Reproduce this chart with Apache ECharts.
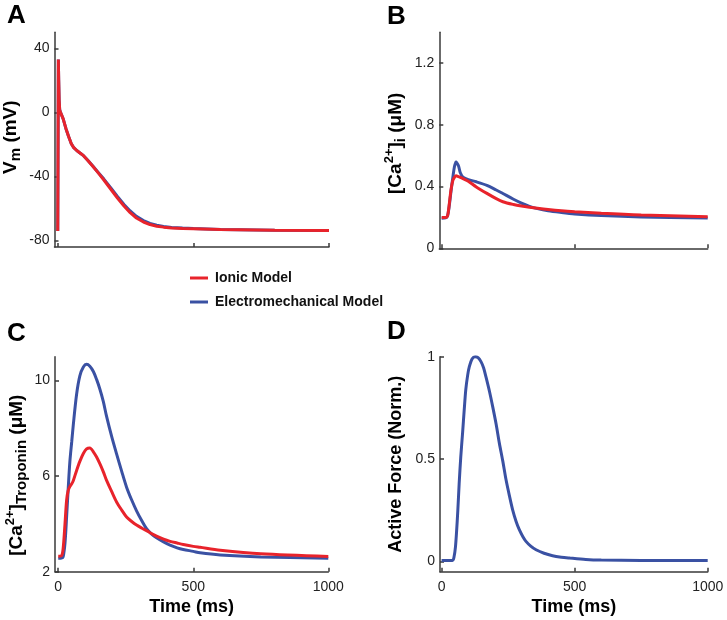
<!DOCTYPE html>
<html>
<head>
<meta charset="utf-8">
<script src="https://cdn.jsdelivr.net/npm/echarts@6/dist/echarts.min.js"></script>
<style>
html,body{margin:0;padding:0;background:#fff;}
#chart{width:727px;height:620px;}
</style>
</head>
<body>
<div id="chart"></div>
<script>
// ---- Data ----
const seriesNames = ['Ionic Model', 'Electromechanical Model'];
const xTicks = [0, 500, 1000];

// Panel A: membrane potential (mV)
const tA = [0, 1.8, 2.2, 3.5, 5, 7, 9, 12, 20, 30, 40, 50, 58, 70, 82, 95, 110, 130, 150, 170, 195, 220, 245, 267, 290, 316, 340, 365, 390, 420, 460, 500, 600, 800, 1000];
const vmIonic = [-74, -74, 33, 20, 8, 2, 0.5, 0, -4, -10, -15, -19.5, -21.8, -23.8, -25.3, -27, -29.8, -33.8, -37.9, -42.2, -47.8, -53.4, -58.6, -62.6, -65.9, -68.4, -70, -71, -71.6, -72.1, -72.4, -72.6, -73.1, -73.5, -73.7];
const vmElectro = [-74, -74, 33, 20, 8, 2, 0.5, 0, -4, -10, -15, -19.5, -21.8, -23.8, -25.3, -27, -29.7, -33.6, -37.6, -41.6, -47, -52.5, -57.6, -61.5, -64.9, -67.5, -69.3, -70.4, -71.2, -71.8, -72.2, -72.5, -73.1, -73.5, -73.7];
const yTicksA = [-80, -40, 0, 40];

// Panel B: [Ca2+]i (uM)
const tB = [0, 15, 22, 28, 35, 42, 48, 54, 56, 63, 70, 80, 100, 130, 170, 205, 230, 270, 300, 330, 360, 400, 450, 500, 600, 750, 1000];
const caIonic = [0.2, 0.2, 0.21, 0.28, 0.38, 0.44, 0.46, 0.47, 0.47, 0.465, 0.46, 0.452, 0.435, 0.398, 0.356, 0.322, 0.302, 0.284, 0.274, 0.266, 0.259, 0.251, 0.243, 0.237, 0.227, 0.216, 0.205];
const caElectro = [0.195, 0.197, 0.21, 0.27, 0.37, 0.46, 0.53, 0.56, 0.561, 0.535, 0.49, 0.462, 0.445, 0.431, 0.408, 0.378, 0.355, 0.318, 0.293, 0.272, 0.257, 0.243, 0.232, 0.223, 0.212, 0.203, 0.197];
const yTicksB = [0, 0.4, 0.8, 1.2];

// Panel C: [Ca2+]Troponin (uM)
const tC = [0, 12, 18, 25, 31, 37, 43, 50, 56, 68, 80, 93, 105, 117, 130, 142, 154, 167, 179, 198, 216, 235, 253, 272, 290, 310, 327, 345, 364, 390, 414, 440, 463, 500, 525, 600, 750, 1000];
const tropIonic = [2.65, 2.67, 2.95, 4.0, 5.0, 5.4, 5.56, 5.68, 5.82, 6.24, 6.62, 6.95, 7.14, 7.18, 7.02, 6.8, 6.52, 6.18, 5.82, 5.35, 4.92, 4.58, 4.29, 4.1, 3.95, 3.82, 3.72, 3.6, 3.49, 3.36, 3.27, 3.2, 3.14, 3.06, 3.02, 2.9, 2.75, 2.64];
const tropElectro = [2.56, 2.57, 2.62, 3.2, 4.3, 5.5, 6.6, 7.45, 8.18, 9.43, 10.2, 10.57, 10.68, 10.6, 10.38, 10.05, 9.65, 9.12, 8.5, 7.65, 6.93, 6.2, 5.54, 5.0, 4.55, 4.12, 3.8, 3.58, 3.42, 3.25, 3.11, 3.0, 2.93, 2.85, 2.79, 2.7, 2.62, 2.56];
const yTicksC = [2, 6, 10];

// Panel D: active force (normalised)
const tD = [0, 41, 47, 52, 56, 61, 66, 72, 79, 85, 91, 98, 104, 115, 126, 137, 148, 158, 167, 180, 192, 205, 217, 230, 242, 255, 267, 280, 292, 305, 317, 335, 355, 385, 417, 450, 480, 542, 600, 750, 1000];
const forceElectro = [0.005, 0.005, 0.024, 0.07, 0.14, 0.25, 0.38, 0.51, 0.63, 0.74, 0.84, 0.91, 0.95, 0.99, 1.0, 0.995, 0.976, 0.945, 0.9, 0.83, 0.756, 0.67, 0.578, 0.49, 0.4, 0.32, 0.252, 0.195, 0.155, 0.122, 0.098, 0.075, 0.057, 0.04, 0.028, 0.021, 0.017, 0.01, 0.007, 0.005, 0.005];
const yTicksD = [0, 0.5, 1];

// ---- Styling ----
const FONT = '"Liberation Sans", Arial, Helvetica, sans-serif';
const RED = '#e8232b';
const BLUE = '#3a51a3';
const AXIS = '#3a3a3a';
const zip = (xs, ys) => xs.map((x, i) => [x, ys[i]]);

const rich = {
  b: {fontSize: 19, fontWeight: 'bold', fontFamily: FONT, color: '#000', verticalAlign: 'bottom', padding: [0, 0, 3, 0]},
  sup: {fontSize: 13, fontWeight: 'bold', fontFamily: FONT, color: '#000', verticalAlign: 'bottom', padding: [0, 0, 12, 0]},
  sub: {fontSize: 15, fontWeight: 'bold', fontFamily: FONT, color: '#000', verticalAlign: 'bottom', padding: [0, 0, 0, 0]}
};

function xAxisCfg(idx, min, showLabels) {
  return {
    type: 'value', gridIndex: idx, min: min, max: 1000,
    splitLine: {show: false},
    axisLine: {show: true, onZero: false, lineStyle: {color: AXIS, width: 1.5}},
    axisTick: {show: true, inside: true, length: 4, customValues: xTicks, lineStyle: {color: AXIS, width: 1.5}},
    axisLabel: {show: showLabels, customValues: xTicks, margin: 8, fontSize: 14, color: '#222', fontFamily: FONT,
      formatter: v => String(v)},
    name: showLabels ? 'Time (ms)' : '',
    nameLocation: 'middle', nameGap: 26,
    nameTextStyle: {fontSize: 18, fontWeight: 'bold', color: '#000', fontFamily: FONT}
  };
}
function yAxisCfg(idx, min, max, ticks, name, gap, pad) {
  return {
    type: 'value', gridIndex: idx, min: min, max: max,
    splitLine: {show: false},
    axisLine: {show: true, onZero: false, lineStyle: {color: AXIS, width: 1.5}},
    axisTick: {show: true, inside: true, length: 4, customValues: ticks, lineStyle: {color: AXIS, width: 1.5}},
    axisLabel: {customValues: ticks, margin: 5, fontSize: 14, color: '#222', fontFamily: FONT, formatter: v => String(v)},
    name: name, nameLocation: 'middle', nameRotate: 90, nameGap: gap,
    nameTextStyle: {fontSize: 18, fontWeight: 'bold', color: '#000', fontFamily: FONT, rich: rich, padding: pad}
  };
}
function line(name, xi, xs, ys, color, smooth) {
  return {
    type: 'line', name: name, xAxisIndex: xi, yAxisIndex: xi,
    data: zip(xs, ys), symbol: 'none', showSymbol: false, smooth: smooth ? 0.3 : false,
    lineStyle: {width: 3, color: color}, itemStyle: {color: color}
  };
}

const chart = echarts.init(document.getElementById('chart'), null, {renderer: 'canvas'});
chart.setOption({
  backgroundColor: '#fff',
  animation: false,
  title: [
    {text: 'A', left: 7, top: 3, padding: 0, textStyle: {fontSize: 26, fontWeight: 'bold', color: '#000', fontFamily: FONT}},
    {text: 'B', left: 387, top: 4, padding: 0, textStyle: {fontSize: 26, fontWeight: 'bold', color: '#000', fontFamily: FONT}},
    {text: 'C', left: 7, top: 321, padding: 0, textStyle: {fontSize: 26, fontWeight: 'bold', color: '#000', fontFamily: FONT}},
    {text: 'D', left: 387, top: 319, padding: 0, textStyle: {fontSize: 26, fontWeight: 'bold', color: '#000', fontFamily: FONT}}
  ],
  legend: {
    data: seriesNames, orient: 'vertical', left: 190, top: 271,
    itemWidth: 18, itemHeight: 3, itemGap: 10, icon: 'rect', padding: 0,
    textStyle: {fontSize: 14, fontWeight: 'bold', color: '#111', fontFamily: FONT, padding: [0, 0, 0, 2]}
  },
  grid: [
    {left: 54.5, top: 32.3, width: 274.5, height: 214.7},
    {left: 439.3, top: 32.3, width: 268.4, height: 216},
    {left: 55, top: 356.7, width: 273.3, height: 215},
    {left: 440, top: 356.7, width: 267.7, height: 215}
  ],
  xAxis: [
    xAxisCfg(0, -12, false),
    xAxisCfg(1, -9, false),
    xAxisCfg(2, -12, true),
    xAxisCfg(3, -6, true)
  ],
  yAxis: [
    yAxisCfg(0, -84, 50, yTicksA, '{b|V}{sub|m}{b| (mV)}', 31, [0, 0, 0, 5]),
    yAxisCfg(1, 0, 1.4, yTicksB, '{b|[Ca}{sup|2+}{b|]}{sub|i}{b| (μM)}', 31, [0, 6, 0, 0]),
    yAxisCfg(2, 2, 11, yTicksC, '{b|[Ca}{sup|2+}{b|]}{sub|Troponin}{b| (μM)}', 26, [0, 22, 0, 0]),
    yAxisCfg(3, -0.05, 1, yTicksD, 'Active Force (Norm.)', 35, 0)
  ],
  series: [
    line(seriesNames[1], 0, tA, vmElectro, BLUE, false),
    line(seriesNames[0], 0, tA, vmIonic, RED, false),
    line(seriesNames[1], 1, tB, caElectro, BLUE, true),
    line(seriesNames[0], 1, tB, caIonic, RED, true),
    line(seriesNames[1], 2, tC, tropElectro, BLUE, true),
    line(seriesNames[0], 2, tC, tropIonic, RED, true),
    line(seriesNames[1], 3, tD, forceElectro, BLUE, true)
  ]
});
</script>
</body>
</html>
